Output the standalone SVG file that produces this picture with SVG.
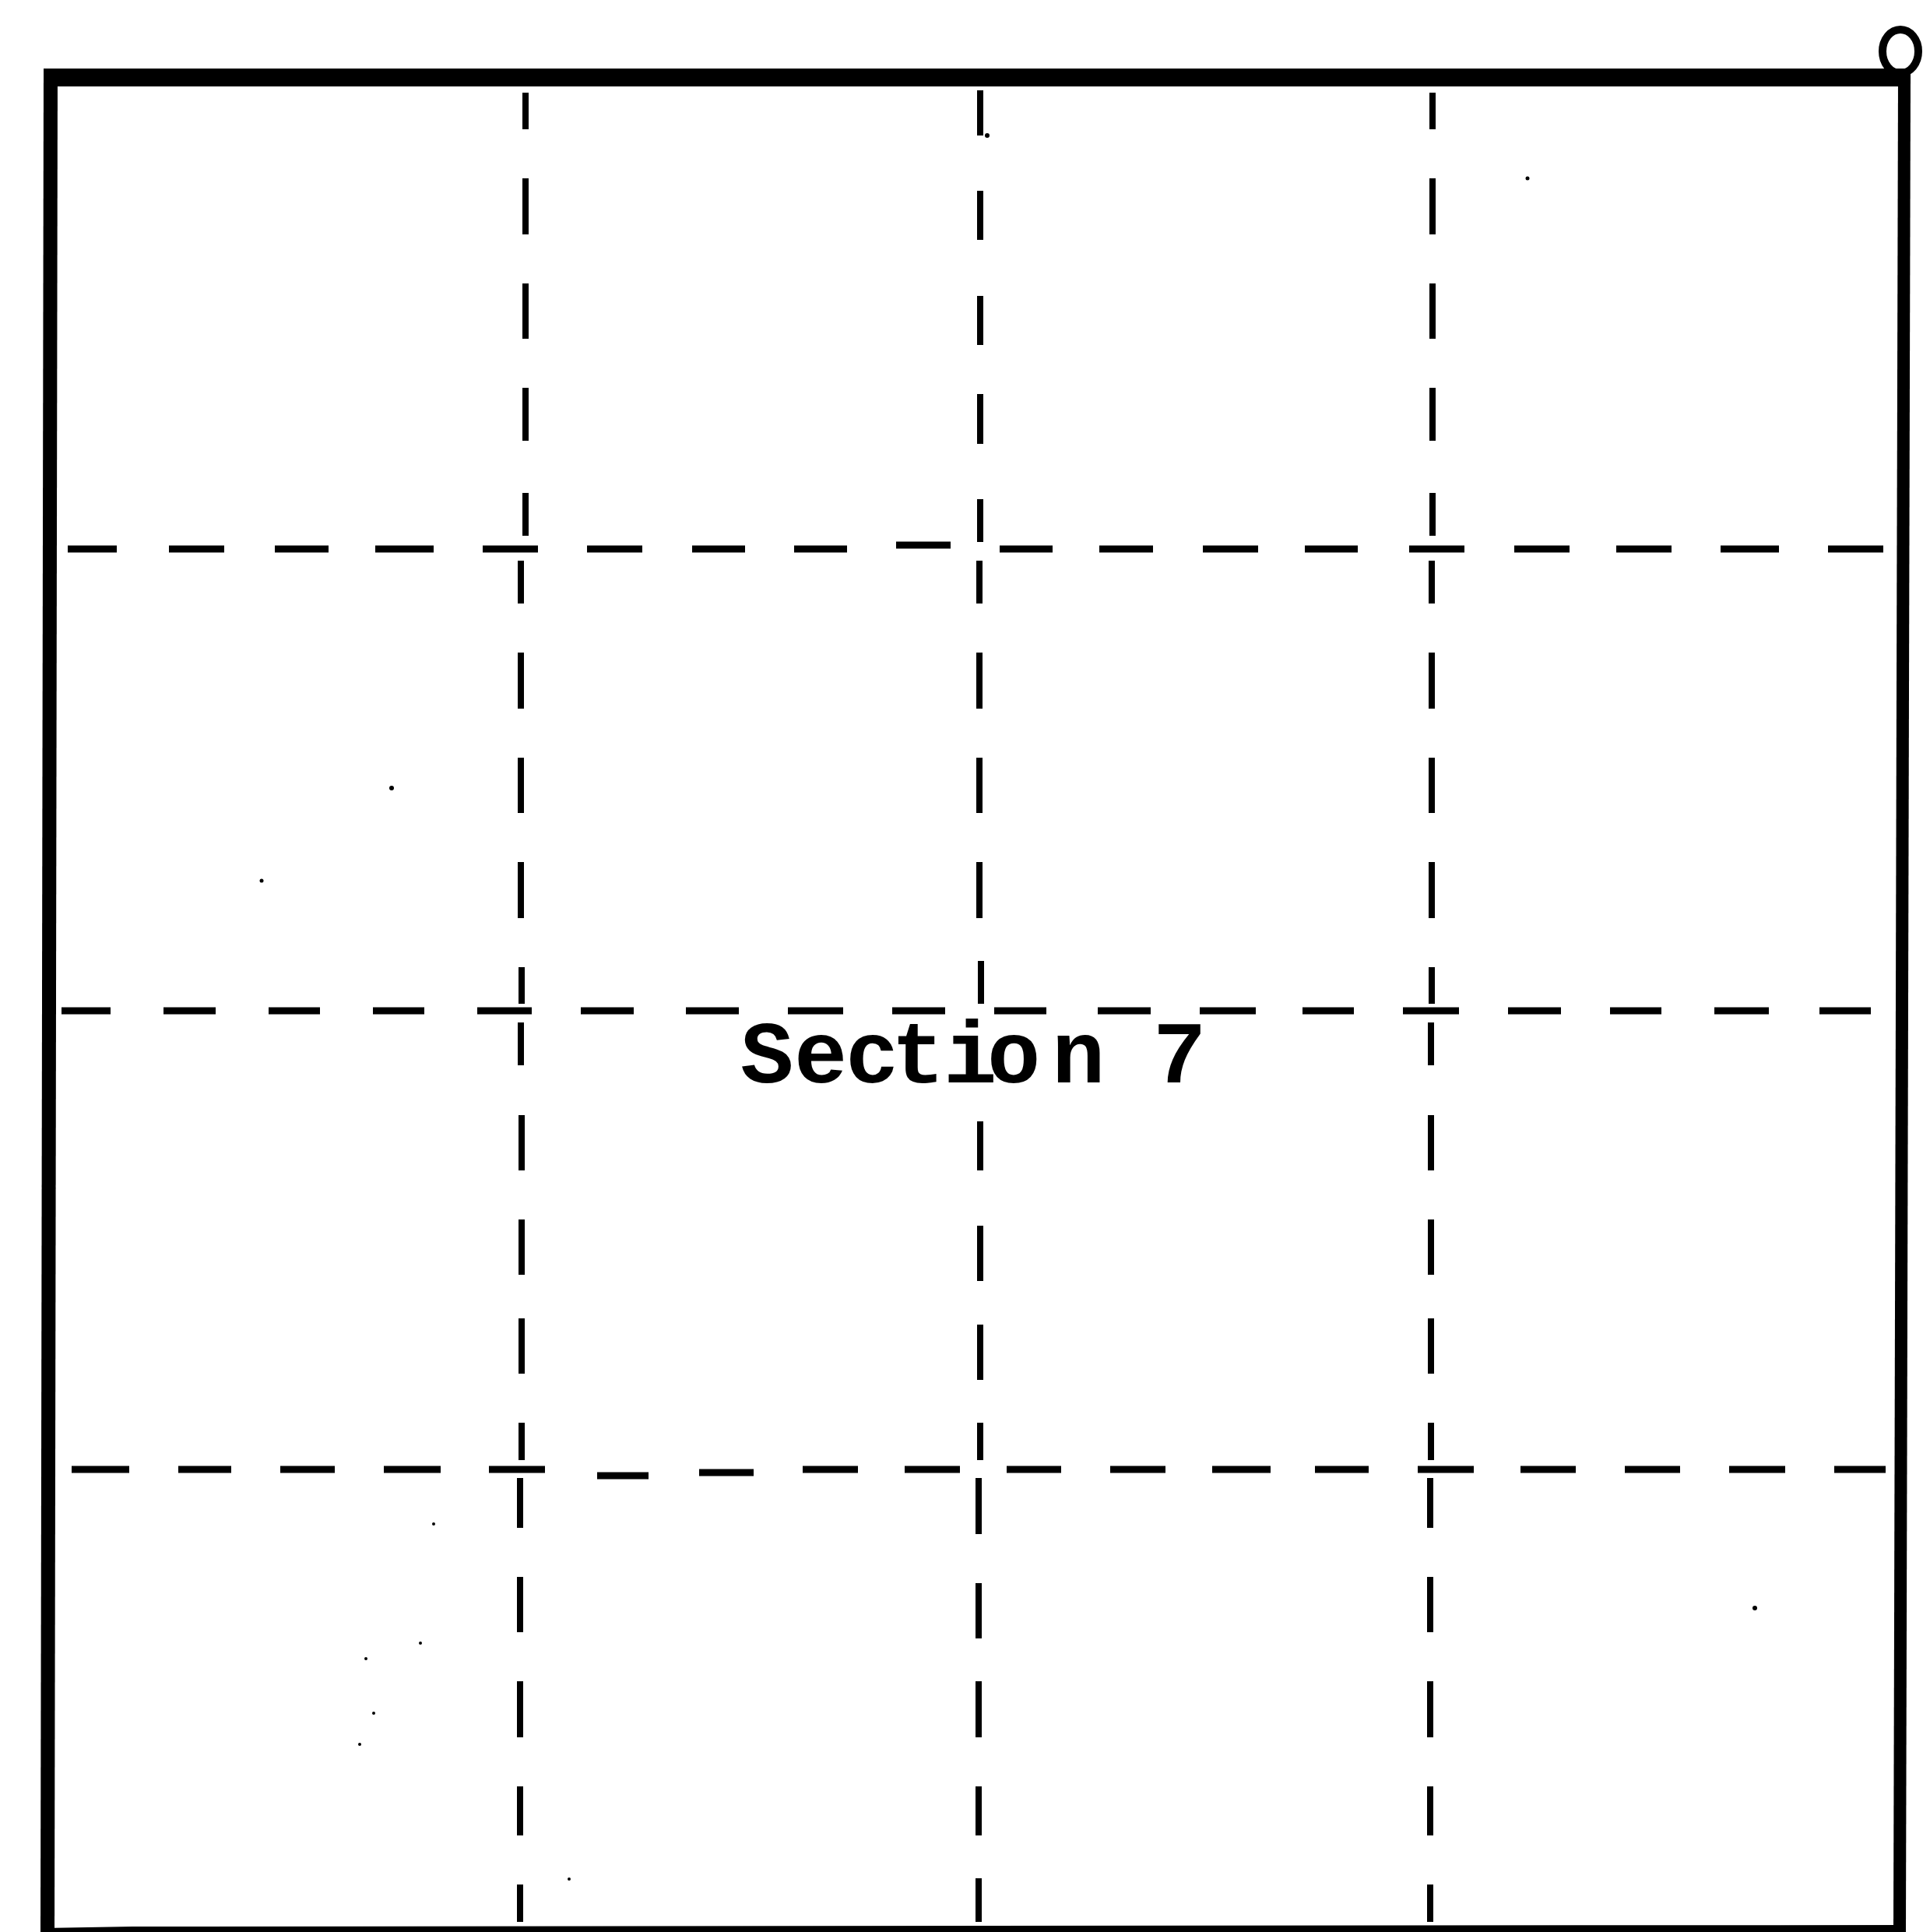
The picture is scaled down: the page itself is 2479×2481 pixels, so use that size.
<svg xmlns="http://www.w3.org/2000/svg" width="2479" height="2481" viewBox="0 0 2479 2481">
<style>
.bd{stroke:#000;fill:none;stroke-linecap:butt}
.gv{stroke:#000;stroke-width:8;fill:none}
.gh{stroke:#000;stroke-width:9;fill:none}
.lbl{font-family:"Liberation Mono","DejaVu Sans Mono",monospace;font-weight:bold;font-size:114px;fill:#000}
.sp{fill:#000}
</style>
<rect width="2479" height="2481" fill="#fff"/>
<g id="section-boundary">
<line class="bd" x1="65" y1="88" x2="61" y2="2481" stroke-width="18"/>
<line class="bd" x1="56" y1="99.5" x2="2446" y2="99.5" stroke-width="23"/>
<line class="bd" x1="76" y1="103" x2="2425" y2="103" stroke="#fff" stroke-width="4" stroke-dasharray="40 10 25 8 55 12 30 6 45 15 20 9 60 11"/>
<line class="bd" x1="2446" y1="95" x2="2440" y2="2481" stroke-width="16"/>
<polygon points="55,2476 170,2474 2448,2472 2448,2481 55,2481" fill="#000"/>
<ellipse cx="2441" cy="66" rx="23" ry="28" fill="none" stroke="#000" stroke-width="10"/>
</g>
<g id="connectors">
<path id="v1" class="gv" d="M675 119V166M675 229V301M675 364V435M675 498V566M675 633V688M669 720V775M669 838V910M669 973V1044M669 1107V1179M670 1242V1289M669 1313V1368M670 1432V1503M670 1566V1637M670 1693V1764M670 1827V1875M668 1898V1962M668 2025V2096M668 2159V2231M668 2294V2357M668 2420V2468"/>
<path id="v2" class="gv" d="M1259 116V174M1259 245V308M1259 380V443M1259 506V570M1259 641V696M1258 720V775M1258 838V910M1258 973V1044M1258 1107V1179M1260 1234V1289M1259 1440V1503M1259 1574V1645M1259 1701V1772M1259 1827V1875M1257 1898V1970M1257 2033V2104M1257 2159V2231M1257 2294V2357M1257 2412V2468"/>
<path id="v3" class="gv" d="M1840 119V166M1840 229V301M1840 364V435M1840 498V566M1840 633V688M1839 720V775M1839 838V910M1839 973V1044M1839 1107V1179M1839 1242V1289M1838 1313V1368M1838 1432V1503M1838 1566V1637M1838 1693V1764M1838 1827V1875M1837 1898V1962M1837 2025V2096M1837 2159V2231M1837 2294V2357M1837 2420V2468"/>
<path id="h1" class="gh" d="M87 705H150M217 705H288M353 705H422M482 705H557M620 705H691M754 705H825M889 705H957M1020 705H1088M1151 700H1221M1284 705H1352M1412 705H1481M1545 705H1616M1676 705H1744M1810 705H1881M1945 705H2016M2076 705H2147M2210 705H2285M2348 705H2419"/>
<path id="h2" class="gh" d="M79 1298H142M210 1298H277M345 1298H411M479 1298H545M613 1298H683M746 1298H814M881 1298H949M1012 1298H1083M1146 1298H1214M1277 1298H1344M1410 1298H1478M1541 1298H1613M1673 1298H1739M1802 1298H1874M1937 1298H2005M2068 1298H2134M2202 1298H2272M2337 1298H2403"/>
<path id="h3" class="gh" d="M92 1887H166M229 1887H297M360 1887H430M493 1887H566M628 1887H700M767 1895H833M898 1891H968M1031 1887H1102M1162 1887H1233M1293 1887H1363M1426 1887H1497M1557 1887H1632M1689 1887H1758M1821 1887H1893M1953 1887H2024M2087 1887H2158M2221 1887H2293M2356 1887H2422"/>
</g>
<g id="label-section-7">
<text class="lbl" x="951 1020 1086 1145 1212 1268 1351 1418 1481" y="1390">Section 7</text>
</g>
<g id="specks">
<circle class="sp" cx="503" cy="1012" r="3"/>
<circle class="sp" cx="336" cy="1131" r="2.5"/>
<circle class="sp" cx="557" cy="1957" r="2"/>
<circle class="sp" cx="1962" cy="229" r="2.5"/>
<circle class="sp" cx="2254" cy="2065" r="3"/>
<circle class="sp" cx="731" cy="2413" r="2"/>
<circle class="sp" cx="470" cy="2130" r="2"/>
<circle class="sp" cx="540" cy="2110" r="2"/>
<circle class="sp" cx="480" cy="2200" r="2"/>
<circle class="sp" cx="462" cy="2240" r="2"/>
<circle class="sp" cx="1268" cy="174" r="3"/>
</g>
</svg>
